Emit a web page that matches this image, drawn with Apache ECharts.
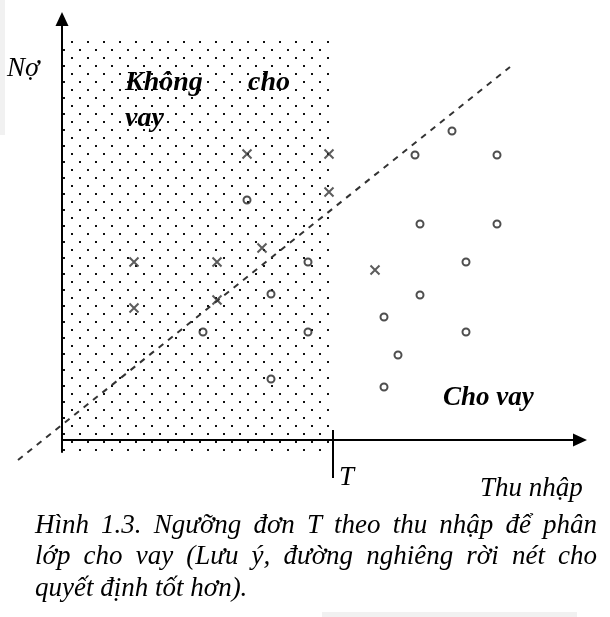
<!DOCTYPE html>
<html><head><meta charset="utf-8">
<script src="https://cdn.jsdelivr.net/npm/echarts@6/dist/echarts.min.js"></script>
<style>html,body{margin:0;padding:0;background:#fff}#c{width:610px;height:617px}</style>
</head><body><div id="c"></div>
<script>
// ---- data ----
const rejectX = [37, 53.4, 53.4, 40, 14.4, 31, 14.4, 31, 62.6];
const rejectY = [71.5, 71.5, 62, 48, 44.5, 44.5, 33, 35, 42.5];
const approveX = [37, 49.2, 41.8, 28.2, 49.2, 41.8, 78, 70.6, 87, 71.6, 87, 80.8, 71.6, 64.4, 80.8, 67.2, 64.4];
const approveY = [60, 44.5, 36.5, 27, 27, 15.25, 77.25, 71.25, 71.25, 54, 54, 44.5, 36.25, 30.75, 27, 21.25, 13.25];
const thresholdT = 54.2;
const boundaryX = [-8.8, 89.6];
const boundaryY = [-5, 93.25];
const regionY = [-3, 100.25];
const tickSpanY = [2.5, -9.5];
const yAxisName = 'Nợ';
const xAxisName = 'Thu nhập';
const tLabel = 'T';
const regionLabelTop = ['Không', 'cho'];
const regionLabelBottom = 'vay';
const approveLabel = 'Cho vay';
const captionLines = [
  'Hình 1.3. Ngưỡng đơn T theo thu nhập để phân',
  'lớp cho vay (Lưu ý, đường nghiêng rời nét cho',
  'quyết định tốt hơn).'
];

// ---- pattern for the dotted region ----
const tile = document.createElement('canvas');
tile.width = 16; tile.height = 16;
const tctx = tile.getContext('2d');
tctx.fillStyle = '#111';
tctx.fillRect(0, 0, 2, 2);
tctx.fillRect(8, 8, 2, 2);

const chart = echarts.init(document.getElementById('c'), null, {renderer: 'canvas'});

const zip = (a, b) => a.map((v, i) => [v, b[i]]);

const FONT_I = "italic 27px 'Liberation Serif'";
const FONT_BI = "italic bold 28px 'Liberation Serif'";
const FONT_BI2 = "italic bold 27px 'Liberation Serif'";
const BASE_OFF = 9; // baseline -> middle offset

function txt(text, x, baseline, font) {
  return {type: 'text', x: x, y: baseline - BASE_OFF, z: 50,
    style: {text: text, font: font, fill: '#000', align: 'left', verticalAlign: 'middle'}};
}

// justified caption lines
const mctx = document.createElement('canvas').getContext('2d');
mctx.font = FONT_I;
const graphics = [];
const capLeft = 35, capRight = 597, capBase = [535, 566, 598];
captionLines.forEach((line, li) => {
  const words = line.split(' ');
  if (li < captionLines.length - 1) {
    const widths = words.map(w => mctx.measureText(w).width);
    const total = widths.reduce((a, b) => a + b, 0);
    const gap = (capRight - capLeft - total) / (words.length - 1);
    let x = capLeft;
    words.forEach((w, i) => { graphics.push(txt(w, x, capBase[li], FONT_I)); x += widths[i] + gap; });
  } else {
    graphics.push(txt(line, capLeft, capBase[li], FONT_I));
  }
});
graphics.push(txt(yAxisName, 7, 78, FONT_I));
graphics.push(txt(regionLabelTop[0], 125, 92, FONT_BI));
graphics.push(txt(regionLabelTop[1], 248, 92, FONT_BI));
graphics.push(txt(regionLabelBottom, 125, 128, FONT_BI));
graphics.push(txt(approveLabel, 443, 407, FONT_BI2));
graphics.push(txt(tLabel, 339, 487, FONT_I));
graphics.push(txt(xAxisName, 480, 498, FONT_I));
// faint scan edges
graphics.push({type: 'rect', shape: {x: 0, y: 0, width: 5, height: 135}, style: {fill: '#f1f1f1'}, z: 0});
graphics.push({type: 'rect', shape: {x: 322, y: 612, width: 255, height: 5}, style: {fill: '#f1f1f1'}, z: 0});

const hiddenAxis = {axisLine: {show: false}, axisTick: {show: false}, axisLabel: {show: false}, splitLine: {show: false}};

chart.setOption({
  animation: false,
  backgroundColor: '#fff',
  grid: [
    {left: 62, top: 19, width: 518, height: 433, outerBoundsMode: 'none', containLabel: false},
    // same scale, widened to hold the boundary line beyond the axes
    {left: 12, top: 19, width: 568, height: 449, outerBoundsMode: 'none', containLabel: false}
  ],
  xAxis: [{
    type: 'value', min: 0, max: 103.6, gridIndex: 0,
    axisLine: {show: true, onZero: true, symbol: ['none', 'triangle'], symbolSize: [13, 14],
      lineStyle: {color: '#000', width: 2}},
    axisTick: {show: false}, axisLabel: {show: false}, splitLine: {show: false}
  }, Object.assign({type: 'value', min: -10, max: 103.6, gridIndex: 1}, hiddenAxis)],
  yAxis: [{
    type: 'value', min: -3, max: 105.25, gridIndex: 0,
    axisLine: {show: true, onZero: true, symbol: ['none', 'triangle'], symbolSize: [13, 14],
      lineStyle: {color: '#000', width: 2}},
    axisTick: {show: false}, axisLabel: {show: false}, splitLine: {show: false}
  }, Object.assign({type: 'value', min: -7, max: 105.25, gridIndex: 1}, hiddenAxis)],
  series: [
    {
      type: 'line', name: 'threshold', data: zip([thresholdT, thresholdT], tickSpanY),
      clip: false, symbol: 'none', silent: true, z: 3,
      lineStyle: {color: '#000', width: 2},
      markArea: {
        silent: true,
        itemStyle: {color: {image: tile, repeat: 'repeat', x: 7, y: 9}, opacity: 1, borderWidth: 0},
        data: [[{coord: [0, regionY[0]]}, {coord: [thresholdT, regionY[1]]}]]
      }
    },
    {
      type: 'line', name: 'boundary', data: zip(boundaryX, boundaryY),
      xAxisIndex: 1, yAxisIndex: 1,
      clip: false, symbol: 'none', silent: true, z: 4,
      lineStyle: {color: '#333', width: 2, type: [6, 6]}
    },
    {
      type: 'scatter', name: 'reject', data: zip(rejectX, rejectY), z: 5,
      symbol: 'path://M0,0L10,10M10,0L0,10', symbolSize: 9,
      itemStyle: {color: 'rgba(0,0,0,0)', borderColor: '#333', borderWidth: 2}
    },
    {
      type: 'scatter', name: 'approve', data: zip(approveX, approveY), z: 5,
      symbol: 'circle', symbolSize: 7,
      itemStyle: {color: 'rgba(0,0,0,0)', borderColor: '#222', borderWidth: 2}
    }
  ],
  graphic: graphics
});
</script></body></html>
